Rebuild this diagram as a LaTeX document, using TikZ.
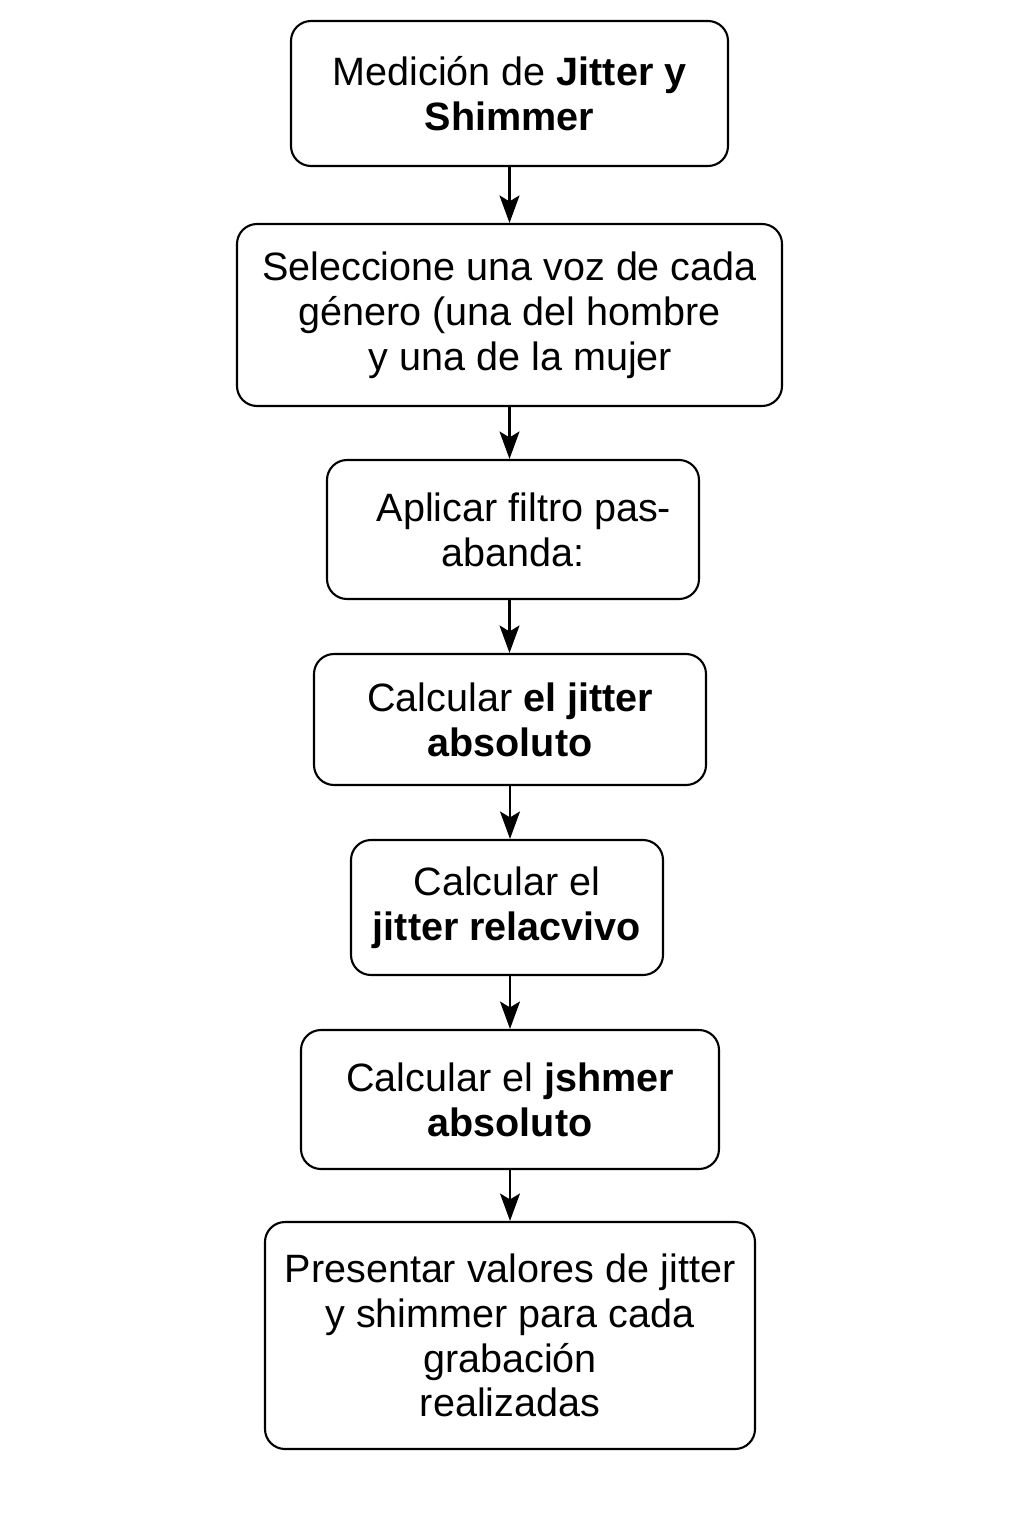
\documentclass[tikz,border=0pt]{standalone}
\usepackage{fontspec}
\setmainfont{Liberation Sans}
\usetikzlibrary{arrows.meta}
\begin{document}
\begin{tikzpicture}[
    box/.style={draw, line width=1.2pt, rounded corners=0.4cm, align=center,
        font=\fontsize{22.5}{25.5}\selectfont},
    flow/.style={-{Stealth[length=0.55cm,width=0.4cm,inset=0.12cm]}, line width=1.2pt}
    ]
                \useasboundingbox (0,0) rectangle (20.48,-30.72);
                \node[box, minimum width=8.74cm, minimum height=2.9cm] (A) at (10.19,-1.87)
                    {Medición de \textbf{Jitter y}\\\textbf{Shimmer}};
                \node[box, minimum width=10.9cm, minimum height=3.64cm] (B) at (10.19,-6.3)
                    {Seleccione una voz de cada\\género (una del hombre\\\ \ y una de la mujer};
                \node[box, minimum width=7.44cm, minimum height=2.78cm] (C) at (10.26,-10.59)
                    {\ \ Aplicar filtro pas-\\abanda:};
                \node[box, minimum width=7.84cm, minimum height=2.62cm] (D) at (10.2,-14.39)
                    {Calcular \textbf{el jitter}\\\textbf{absoluto}};
                \node[box, minimum width=6.24cm, minimum height=2.7cm] (E) at (10.14,-18.15)
                    {Calcular el\\\textbf{jitter relacvivo}};
                \node[box, minimum width=8.36cm, minimum height=2.78cm] (F) at (10.2,-21.99)
                    {Calcular el \textbf{jshmer}\\\textbf{absoluto}};
                \node[box, minimum width=9.8cm, minimum height=4.54cm] (G) at (10.2,-26.71)
                    {Presentar valores de jitter\\y shimmer para cada\\grabación\\realizadas};
                \draw[flow] (A.south) -- (A.south |- B.north);
                \draw[flow] (B.south) -- (B.south |- C.north);
                \draw[flow] (C.south -| B.south) -- (B.south |- D.north);
                \draw[flow] (D.south) -- (D.south |- E.north);
                \draw[flow] (E.south -| D.south) -- (D.south |- F.north);
                \draw[flow] (F.south) -- (F.south |- G.north);
            \end{tikzpicture}
\end{document}
